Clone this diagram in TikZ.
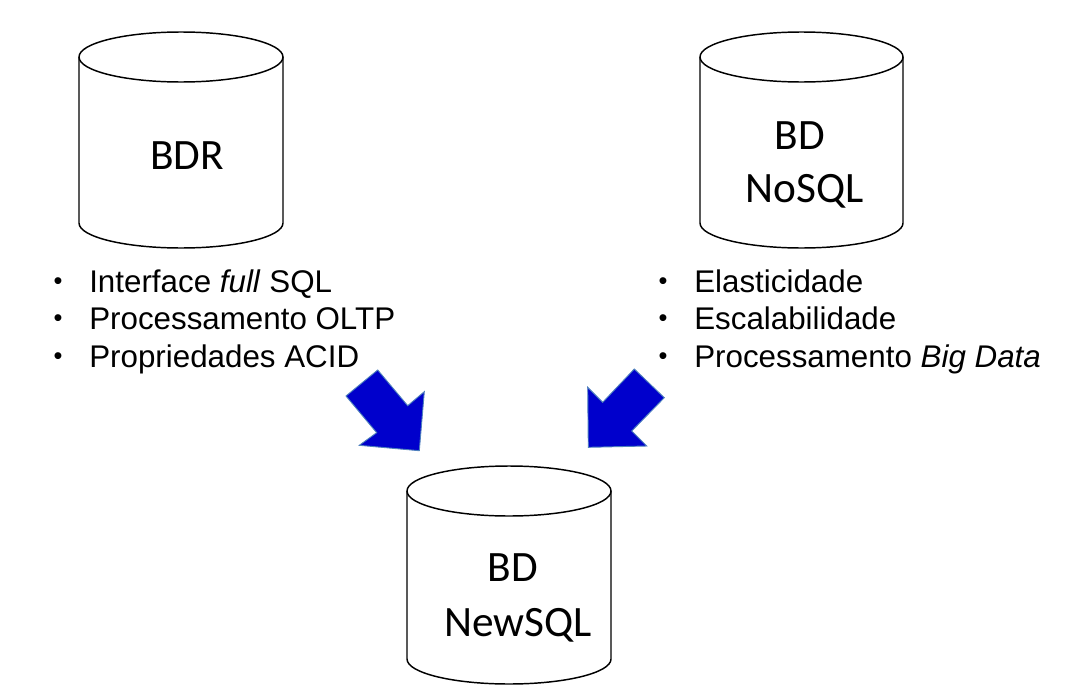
\documentclass[tikz,border=0pt]{standalone}
\usepackage{fontspec}
\setmainfont{Liberation Sans}
\newfontfamily\cylfont{Carlito}
\usepackage{tikz}
\usetikzlibrary{positioning}
\definecolor{arrowblue}{HTML}{0000CC}
\definecolor{arrowedge}{HTML}{4F81BD}
% cylinder: centre x, x radius, top y, bottom y
\newcommand{\dbcyl}[4]{%
	\draw[cyl] (#1-#2,#3) -- (#1-#2,#4) arc[start angle=180, end angle=0, x radius=#2, y radius=25] -- (#1+#2,#3);
	\draw[cyl] (#1,#3) ellipse [x radius=#2, y radius=25];}

\begin{document}
\begin{tikzpicture}[x=0.75pt, y=-0.75pt,
		cyl/.style={line width=1.1pt},
		dbtext/.style={font=\cylfont\fontsize{32.5}{38}\selectfont, anchor=base},
		item/.style={font=\fontsize{23.5}{28}\selectfont, anchor=base west, inner sep=0pt},
		dot/.style={font=\fontsize{19}{22}\selectfont, anchor=base, inner sep=0pt},
		blockarrow/.style={fill=arrowblue, draw=arrowedge, line width=0.7pt, line join=miter}]
	\useasboundingbox (0,0) rectangle (1067,696);
	\dbcyl{181}{102}{57}{223}
	\dbcyl{801.5}{101.5}{57}{223}
	\dbcyl{509}{102}{491}{659}
	\node[dbtext] (bdr) at (187,169) {BDR};
	\node[dbtext] (nosqlbd) at (800,149) {BD};
	\node[dbtext] (nosql) at (805,202) {NoSQL};
	\node[dbtext] (newsqlbd) at (513,581) {BD};
	\node[dbtext] (newsql) at (518,636) {NewSQL};
	% left list
	\node[dot] (lb1) at (58,289) {•};
	\node[dot] (lb2) at (58,326) {•};
	\node[dot] (lb3) at (58,364) {•};
	\node[item] (l1) at (89,292) {Interface \textit{full} SQL};
	\node[item] (l2) at (89,329) {Processamento OLTP};
	\node[item] (l3) at (89,367) {Propriedades ACID};
	% right list
	\node[dot] (rb1) at (663,289) {•};
	\node[dot] (rb2) at (663,326) {•};
	\node[dot] (rb3) at (663,364) {•};
	\node[item] (r1) at (694,292) {Elasticidade};
	\node[item] (r2) at (694,329) {Escalabilidade};
	\node[item] (r3) at (694,367) {Processamento \textit{Big Data}};
	% block arrows
	\draw[blockarrow] (377.7,370) -- (346,396) -- (376.7,432.7) -- (359.3,445.3) -- (419.3,450.7) -- (424.3,391.7) -- (407.7,405.7) -- cycle;
	\draw[blockarrow] (634.3,369) -- (664.3,397.7) -- (631.7,431) -- (646.7,446) -- (588.3,447.3) -- (587.7,387.3) -- (602.7,402.3) -- cycle;
\end{tikzpicture}
\end{document}
